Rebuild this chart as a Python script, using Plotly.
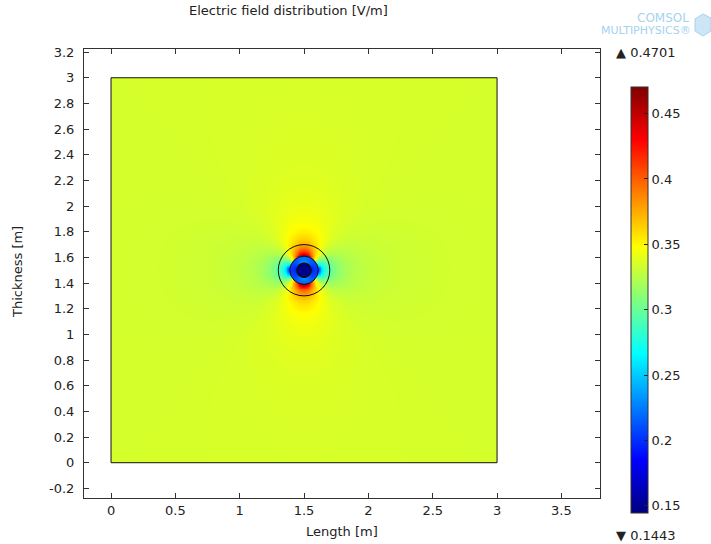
import numpy as np
import plotly.graph_objects as go

# Geometry of the cable cross-section inside the square domain [m]
domain_size = 3.0
centre_x, centre_y = 1.5, 1.5
r_core = 0.055      # conductor radius
r_insul = 0.11      # insulation outer radius
r_outer = 0.2       # auxiliary circle around the cable

# Field levels [V/m]
e_background = 0.3346   # applied uniform (vertical) field
e_core = 0.147          # field inside the conductor
e_insul = 0.212         # uniform part inside the insulation
insul_dipole = 0.00008  # dipole strength inside the insulation
contrast = 0.40         # (eps-1)/(eps+1) of the cable seen from outside
e_min, e_max = 0.1443, 0.4701

x_ticks = [0, 0.5, 1, 1.5, 2, 2.5, 3, 3.5]
y_ticks = [-0.2, 0, 0.2, 0.4, 0.6, 0.8, 1, 1.2, 1.4, 1.6, 1.8, 2, 2.2, 2.4, 2.6, 2.8, 3, 3.2]
cbar_ticks = [0.15, 0.2, 0.25, 0.3, 0.35, 0.4, 0.45]

# Sample the field on a grid whose cells exactly tile the domain
n = 420
xs = (np.arange(n) + 0.5) * domain_size / n
X, Y = np.meshgrid(xs, xs)
dx, dy = X - centre_x, Y - centre_y
r = np.hypot(dx, dy)
r = np.where(r < 1e-9, 1e-9, r)
sin_t, cos_t = dy / r, dx / r

b_out = contrast * r_insul ** 2
e_out = e_background * np.sqrt(sin_t ** 2 * (1 + b_out / r ** 2) ** 2 +
                               cos_t ** 2 * (1 - b_out / r ** 2) ** 2)
e_ring = np.sqrt(sin_t ** 2 * (e_insul + insul_dipole / r ** 2) ** 2 +
                 cos_t ** 2 * (e_insul - insul_dipole / r ** 2) ** 2)
field = np.where(r > r_insul, e_out, np.where(r > r_core, e_ring, e_core))
field = np.clip(field, e_min, e_max).round(4)

rainbow = [[0.0, "rgb(0,0,128)"], [0.125, "rgb(0,0,255)"], [0.375, "rgb(0,255,255)"],
           [0.625, "rgb(255,255,0)"], [0.875, "rgb(255,0,0)"], [1.0, "rgb(128,0,0)"]]

# Plot-area box in pixels, used to place items outside the axes
L, T, R, B = 84, 49, 600, 498
W, H = R - L, B - T


def px(x):
    return (x - L) / W


def py(y):
    return (B - y) / H


font = dict(family="DejaVu Sans", size=13, color="#222222")

fig = go.Figure()
fig.add_trace(go.Heatmap(
    x=xs, y=xs, z=field, colorscale=rainbow, zmin=e_min, zmax=e_max,
    hoverinfo="skip",
    colorbar=dict(
        x=px(631), xanchor="left", y=py(513.3), yanchor="bottom",
        len=(513.3 - 87.7) / H, lenmode="fraction",
        thickness=17, thicknessmode="pixels", xpad=0, ypad=0,
        outlinewidth=1, outlinecolor="#333333",
        tickvals=cbar_ticks, ticktext=[f"{v:g}" for v in cbar_ticks],
        ticks="inside", ticklen=4, tickcolor="#222222",
        tickfont=font,
    ),
))

axis_common = dict(
    showline=True, linecolor="#333333", linewidth=1, mirror="ticks",
    ticks="inside", ticklen=5, tickcolor="#333333", tickwidth=1,
    showgrid=False, zeroline=False, tickfont=font, automargin=False,
)

fig.update_layout(
    width=711, height=544,
    margin=dict(l=L, r=711 - R, t=T, b=544 - B),
    paper_bgcolor="white", plot_bgcolor="white",
    font=font,
    xaxis=dict(range=[-0.21, 3.80], tickvals=x_ticks,
               ticktext=[f"{v:g}" for v in x_ticks], **axis_common),
    yaxis=dict(range=[-0.275, 3.224], tickvals=y_ticks,
               ticktext=[f"{v:g}" for v in y_ticks],
               ticklabelstandoff=6, **axis_common),
    showlegend=False,
)

# Domain and cable boundaries
fig.add_shape(type="rect", x0=0, y0=0, x1=domain_size, y1=domain_size,
              line=dict(color="#111111", width=1))
for rad, w in [(r_outer, 1), (r_insul, 1), (r_core, 1.5)]:
    fig.add_shape(type="circle", x0=centre_x - rad, x1=centre_x + rad,
                  y0=centre_y - rad, y1=centre_y + rad,
                  line=dict(color="#111111", width=w))

# Axis titles
fig.add_annotation(text="Length [m]", xref="paper", yref="paper",
                   x=px(342), y=py(531), xanchor="center", yanchor="middle",
                   showarrow=False, font=font)
fig.add_annotation(text="Thickness [m]", xref="paper", yref="paper",
                   x=px(17), y=py(272), xanchor="center", yanchor="middle",
                   textangle=-90, showarrow=False, font=font)

# Title and colour-range markers
fig.add_annotation(text="Electric field distribution [V/m]", xref="paper", yref="paper",
                   x=px(288), y=py(11), xanchor="center", yanchor="middle",
                   showarrow=False, font=font)
fig.add_annotation(text="▲ 0.4701", xref="paper", yref="paper",
                   x=px(614), y=py(52), xanchor="left", yanchor="middle",
                   showarrow=False, font=font)
fig.add_annotation(text="▼ 0.1443", xref="paper", yref="paper",
                   x=px(614), y=py(535), xanchor="left", yanchor="middle",
                   showarrow=False, font=font)

# Software logo
logo_blue = "#a6d2ee"
fig.add_annotation(text="COMSOL", xref="paper", yref="paper",
                   x=px(691), y=py(18), xanchor="right", yanchor="middle",
                   showarrow=False, font=dict(family="DejaVu Sans", size=12, color=logo_blue))
fig.add_annotation(text="MULTIPHYSICS®", xref="paper", yref="paper",
                   x=px(693), y=py(30), xanchor="right", yanchor="middle",
                   showarrow=False, font=dict(family="DejaVu Sans", size=11, color=logo_blue))
cube = [(695, 19), (703, 14), (711, 18), (711, 31), (703, 36), (695, 31)]
path = "M " + " L ".join(f"{px(a):.4f},{py(b):.4f}" for a, b in cube) + " Z"
fig.add_shape(type="path", xref="paper", yref="paper", path=path,
              fillcolor="#cde6f6", line=dict(color=logo_blue, width=1))

fig.write_html("out.html")
